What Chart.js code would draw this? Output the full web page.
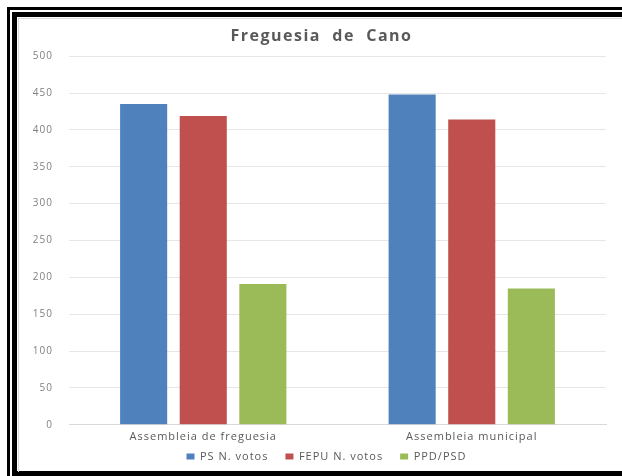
<!DOCTYPE html>
<html lang="pt">
<head>
    <meta charset="UTF-8">
    <title>Freguesia de Cano</title>
    <style>
        html, body{
            margin: 0;
            padding: 0;
            background: #fff;
            width: 622px;
            height: 476px;
            overflow: hidden;
        }
        .outer{
            position: absolute;
            left: 7px;
            top: 7px;
            width: 640px;
            height: 480px;
            border-left: 3px solid #000;
            border-top: 3px solid #000;
        }
        .inner{
            position: absolute;
            left: 12px;
            top: 12px;
            width: 620px;
            height: 454px;
            border: 5px solid #000;
            border-right: none;
            background: #fff;
        }
        .chart{
            position: absolute;
            left: 1px;
            top: 1px;
            width: 604px;
            height: 453px;
            border-left: 1px solid #d9d9d9;
            border-top: 1px solid #d9d9d9;
        }
    </style>
</head>
<body>
    <div class="outer"></div>
    <div class="inner">
        <div class="chart">
            <canvas id="myChart" width="604" height="453"></canvas>
        </div>
    </div>
    <script src="https://cdn.jsdelivr.net/npm/chart.js@4/dist/chart.umd.min.js"></script>
    <script>
const categories = ["Assembleia de freguesia", "Assembleia municipal"];
const psVotos = [435, 448];
const fepuVotos = [419, 414];
const ppdPsd = [191, 185];
const yTicks = [0, 50, 100, 150, 200, 250, 300, 350, 400, 450, 500];

const fontFamily = "'Open Sans', 'DejaVu Sans', sans-serif";
const ctx = document.getElementById('myChart').getContext("2d");

const legendGap = 17;     // horizontal space between legend items
const legendTrim = 14;    // vertical space taken back from the legend
const titleShift = 9;     // excel centres the title on the plot, not the canvas
const legendShift = 14;

// the excel text is drawn a bit spread out, so space the letters,
// and nudge title/legend so they sit like in the original
const tweaks = {
    id: "tweaks",
    beforeLayout(chart) {
        chart.ctx.letterSpacing = "1px";
        const title = chart.titleBlock;
        if (title && !title._patched) {
            const draw = title.draw;
            title.draw = function() {
                const c = this.ctx;
                const old = c.letterSpacing;
                c.letterSpacing = "1.5px";
                this.left += titleShift; this.right += titleShift;
                draw.apply(this, arguments);
                this.left -= titleShift; this.right -= titleShift;
                c.letterSpacing = old;
            };
            title._patched = true;
        }
        const legend = chart.legend;
        if (legend && !legend._patched) {
            const fit = legend.fit;
            const draw = legend.draw;
            legend.fit = function() {
                fit.apply(this, arguments);
                this.height -= legendTrim;
            };
            legend.draw = function() {
                this.top -= legendTrim;
                this.left += legendShift; this.right += legendShift;
                draw.apply(this, arguments);
                this.top += legendTrim;
                this.left -= legendShift; this.right -= legendShift;
            };
            legend._patched = true;
        }
    },
    beforeDraw(chart) {
        chart.ctx.letterSpacing = "1px";
    }
};

const data = {
    labels: categories,
    datasets: [
        {label: "PS N. votos", data: psVotos, backgroundColor: "#4f81bd"},
        {label: "FEPU N. votos", data: fepuVotos, backgroundColor: "#c0504d"},
        {label: "PPD/PSD", data: ppdPsd, backgroundColor: "#9bbb59"},
    ],
};

const config = {
    type: "bar",
    data: data,
    plugins: [tweaks],
    options: {
        responsive: false,
        animation: false,
        datasets: {
            bar: {
                categoryPercentage: 0.666,
                barPercentage: 0.79,
            }
        },
        layout: {
            padding: {left: 0, right: 17, top: 8, bottom: 0}
        },
        plugins: {
            title: {
                display: true,
                text: "Freguesia  de  Cano",
                color: "#595959",
                font: {family: fontFamily, size: 16, weight: "bold"},
                padding: {top: 0, bottom: 10},
            },
            legend: {
                position: "bottom",
                labels: {
                    boxWidth: 8,
                    boxHeight: 6,
                    color: "#595959",
                    font: {family: fontFamily, size: 11},
                    padding: legendGap,
                }
            },
            tooltip: {enabled: false},
        },
        scales: {
            x: {
                grid: {display: false, drawTicks: false},
                border: {color: "#d9d9d9"},
                ticks: {
                    color: "#595959",
                    font: {family: fontFamily, size: 11},
                    padding: 5,
                }
            },
            y: {
                min: 0,
                max: 500,
                afterBuildTicks: (scale) => {
                    scale.ticks = yTicks.map(v => ({value: v}));
                },
                afterFit: (scale) => {
                    scale.width = 50;
                },
                grid: {color: "#e6e6e6", drawTicks: false},
                border: {display: false},
                ticks: {
                    color: "#7f7f7f",
                    font: {family: fontFamily, size: 10},
                    padding: 16,
                }
            }
        }
    },
};

const myChart = new Chart(ctx, config);
    </script>
</body>
</html>
